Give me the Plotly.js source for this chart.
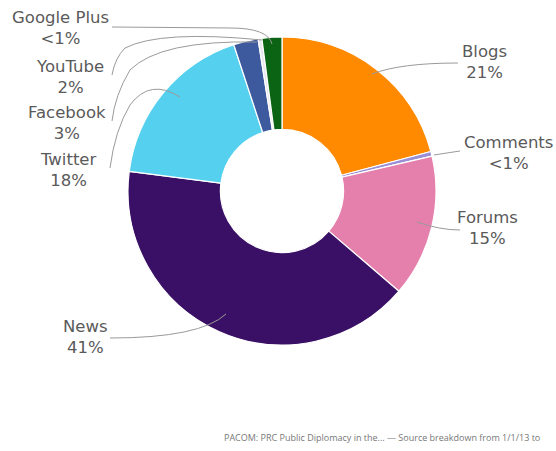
<!DOCTYPE html>
<html>
<head>
<meta charset="utf-8">
<script src="https://cdn.plot.ly/plotly-3.0.1.min.js"></script>
<style>html,body{margin:0;padding:0;background:#fff;}#chart{width:556px;height:451px;}</style>
</head>
<body>
<div id="chart"></div>
<script>
// Data
const categories = ["Blogs", "Comments", "Forums", "News", "Twitter", "Facebook", "Google Plus", "YouTube"];
const shares = [21, 0.5, 15, 41, 18, 2.6, 0.4, 2.1];
const shareLabels = ["21%", "<1%", "15%", "41%", "18%", "3%", "<1%", "2%"];
const colors = ["#ff8a00", "#9a8fd6", "#e57fab", "#3a1066", "#55d0ef", "#3d5a9e", "#e8e8f0", "#0b6414"];
const footerText = "PACOM: PRC Public Diplomacy in the... — Source breakdown from 1/1/13 to";

const W = 556, H = 451;
const px = (x) => x / W;
const py = (y) => 1 - y / H;

// label placement (pixel centre of the two-line block), by category
const labelPos = {
  "Blogs": [484, 62],
  "Comments": [508, 153],
  "Forums": [487, 228],
  "News": [85, 337],
  "Twitter": [68, 170],
  "Facebook": [67, 123],
  "YouTube": [70, 77],
  "Google Plus": [60, 28]
};

// leader paths (pixel coordinates)
const leaders = [
  "M 372 74 Q 400 63 458 63",
  "M 434 155 L 460 151",
  "M 417 222 Q 440 230 460 230",
  "M 226 314 Q 200 338 110 338",
  "M 180 97 Q 150 78 130 105 Q 115 130 110 168",
  "M 257 42 Q 160 40 130 70 Q 115 95 112 121",
  "M 262 40 Q 160 30 125 48 Q 115 58 112 75",
  "M 272 44 Q 268 28 230 28 L 112 27"
];

function toPaperPath(p) {
  const toks = p.split(/\s+/);
  const out = [];
  let i = 0;
  while (i < toks.length) {
    const t = toks[i];
    if (/^[A-Za-z]$/.test(t)) { out.push(t); i++; continue; }
    const x = parseFloat(toks[i]), y = parseFloat(toks[i + 1]);
    out.push(px(x).toFixed(5) + "," + py(y).toFixed(5));
    i += 2;
  }
  return out.join(" ");
}

const cx = 282, cy = 191, R = 154;

const trace = {
  type: "pie",
  labels: categories,
  values: shares,
  sort: false,
  direction: "clockwise",
  rotation: 0,
  hole: 0.4,
  textinfo: "none",
  hoverinfo: "label+percent",
  marker: { colors: colors, line: { color: "#ffffff", width: 1.2 } },
  domain: { x: [px(cx - R), px(cx + R)], y: [py(cy + R), py(cy - R)] },
  showlegend: false
};

const annotations = categories.map((c, i) => {
  const p = labelPos[c];
  return {
    xref: "paper", yref: "paper",
    x: px(p[0]), y: py(p[1]),
    xanchor: "center", yanchor: "middle",
    text: c + "<br>" + shareLabels[i],
    showarrow: false, align: "center",
    font: { family: "DejaVu Sans, sans-serif", size: 16.5, color: "#5a5a5a" }
  };
});

annotations.push({
  xref: "paper", yref: "paper",
  x: px(222), y: py(437),
  xanchor: "left", yanchor: "middle",
  text: footerText,
  showarrow: false,
  font: { family: "Open Sans, sans-serif", size: 9, color: "#777" }
});

const shapes = leaders.map(p => ({
  type: "path", xref: "paper", yref: "paper",
  path: toPaperPath(p),
  line: { color: "#9a9a9a", width: 1 }
}));

const layout = {
  width: W, height: H,
  margin: { l: 0, r: 0, t: 0, b: 0 },
  paper_bgcolor: "#ffffff",
  annotations: annotations,
  shapes: shapes
};

Plotly.newPlot("chart", [trace], layout, { displayModeBar: false, staticPlot: true });
</script>
</body>
</html>
